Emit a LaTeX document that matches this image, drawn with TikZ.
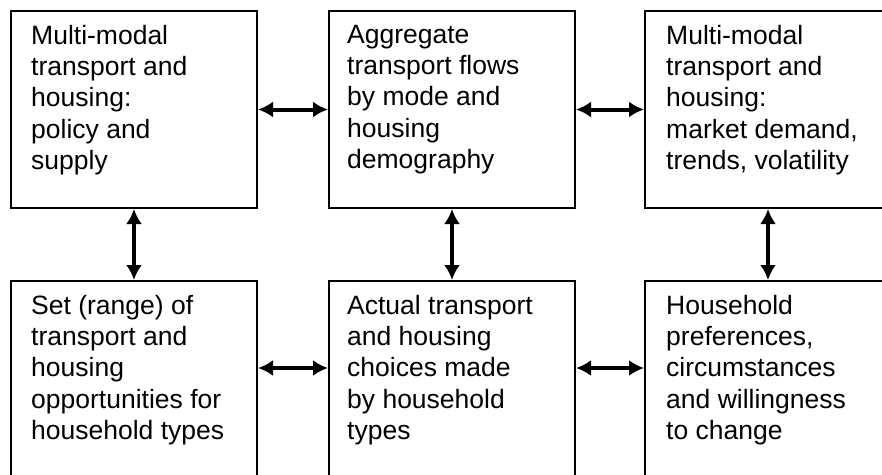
\documentclass[tikz,border=0pt]{standalone}
\usepackage{fontspec}
\setmainfont{Liberation Sans}
\usetikzlibrary{arrows.meta}

\begin{document}
\begin{tikzpicture}[x=1pt,y=-1pt,
  box/.style={draw, line width=2pt, minimum width=246pt, minimum height=197pt, inner sep=0pt},
  txt/.style={anchor=north west, align=left, inner sep=0pt, font=\fontsize{26.5}{31.2}\selectfont},
  link/.style={{Latex[length=15pt,width=16pt]}-{Latex[length=15pt,width=16pt]}, line width=4pt}]
\useasboundingbox (0,0) rectangle (882,474);
\clip (0,0) rectangle (882,474);

\node[box] (policy) at (134,109.5) {};
\node[box] (flows) at (452,109.5) {};
\node[box] (market) at (768,109.5) {};
\node[box] (range) at (134,379.5) {};
\node[box] (choices) at (452,379.5) {};
\node[box] (prefs) at (768,379.5) {};

\node[txt] (policytxt) at ([shift={(21,15)}]policy.north west) {Multi-modal\\transport and\\housing:\\policy and\\supply};
\node[txt] (flowstxt) at ([shift={(19,15)}]flows.north west) {Aggregate\\transport flows\\by mode and\\housing\\demography};
\node[txt] (markettxt) at ([shift={(22,15)}]market.north west) {Multi-modal\\transport and\\housing:\\market demand,\\trends, volatility};
\node[txt] (rangetxt) at ([shift={(21,15)}]range.north west) {Set (range) of\\transport and\\housing\\opportunities for\\household types};
\node[txt] (choicestxt) at ([shift={(19,15)}]choices.north west) {Actual transport\\and housing\\choices made\\by household\\types};
\node[txt] (prefstxt) at ([shift={(22,15)}]prefs.north west) {Household\\preferences,\\circumstances\\and willingness\\to change};

\draw[link] (policy.east) -- (flows.west);
\draw[link] (flows.east) -- (market.west);
\draw[link] ([yshift=11.5pt]range.east) -- ([yshift=11.5pt]choices.west);
\draw[link] ([yshift=11.5pt]choices.east) -- ([yshift=11.5pt]prefs.west);
\draw[link] (policy.south) -- (range.north);
\draw[link] (flows.south) -- (choices.north);
\draw[link] (market.south) -- (prefs.north);
\end{tikzpicture}
\end{document}
